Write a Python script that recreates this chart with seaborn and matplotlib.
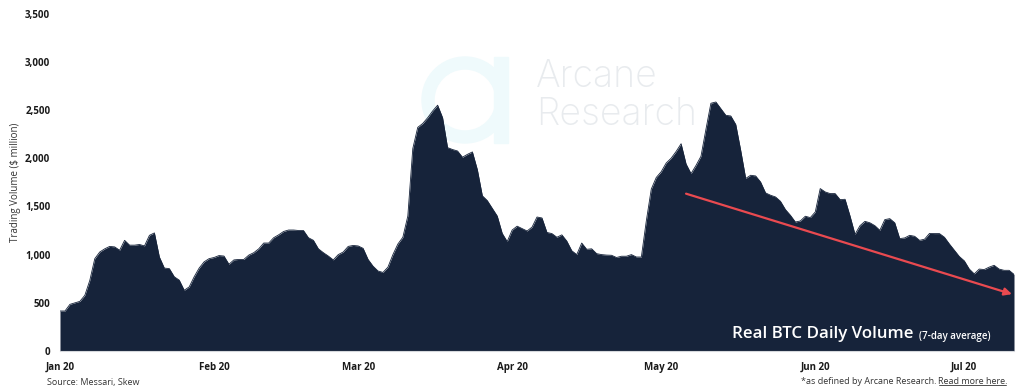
import pandas as pd
import seaborn as sns
import matplotlib.pyplot as plt
import matplotlib.dates as mdates
from matplotlib.patches import Annulus, Rectangle
from matplotlib.lines import Line2D
from matplotlib.transforms import IdentityTransform

# Real BTC daily volume, 7-day average ($ million), one value per day from 1 Jan 2020
volume = [
    415, 415, 484, 500, 515, 578, 733, 958, 1027, 1060,
    1085, 1080, 1045, 1148, 1098, 1098, 1105, 1090, 1200, 1225,
    975, 860, 855, 770, 735, 630, 665, 770, 860, 925,
    958, 970, 990, 985, 900, 945, 950, 950, 995, 1020,
    1060, 1120, 1120, 1175, 1205, 1240, 1255, 1255, 1250, 1250,
    1175, 1148, 1060, 1020, 985, 945, 1000, 1027, 1085, 1095,
    1090, 1065, 950, 880, 830, 815, 870, 1000, 1110, 1180,
    1400, 2100, 2320, 2360, 2420, 2490, 2550, 2420, 2110, 2090,
    2075, 2010, 2040, 2065, 1880, 1610, 1560, 1480, 1400, 1220,
    1135, 1255, 1295, 1270, 1245, 1285, 1390, 1380, 1230, 1218,
    1180, 1205, 1140, 1040, 1000, 1120, 1055, 1060, 1010, 1000,
    995, 993, 970, 983, 983, 1000, 975, 975, 1350, 1680,
    1800, 1860, 1950, 2000, 2070, 2150, 1940, 1840, 1925, 2020,
    2300, 2570, 2583, 2514, 2445, 2438, 2350, 2080, 1790, 1823,
    1816, 1753, 1640, 1616, 1598, 1553, 1467, 1408, 1338, 1349,
    1398, 1384, 1442, 1685, 1650, 1633, 1633, 1570, 1574, 1400,
    1210, 1300, 1345, 1330, 1300, 1252, 1363, 1373, 1330, 1166,
    1173, 1200, 1190, 1148, 1160, 1220, 1218, 1218, 1180, 1110,
    1045, 980, 935, 850, 800, 850, 845, 870, 889, 850,
    837, 837, 795,
]
start_date = '2020-01-01'
yticks = [0, 500, 1000, 1500, 2000, 2500, 3000, 3500]

# trend arrow (date, volume)
trend_start = ('2020-05-06', 1632)
trend_end = ('2020-07-10 14:00', 590)

dates = pd.date_range(start_date, periods=len(volume), freq='D')
df = pd.DataFrame({'date': dates, 'volume': volume})

sns.set_theme(style="white")
plt.rcParams['font.family'] = ['Open Sans', 'DejaVu Sans']

navy = '#16233a'
text_col = '#333333'
fig = plt.figure(figsize=(10.24, 3.88), dpi=100)
ax = fig.add_axes([60 / 1024, 1 - 351 / 388, 954 / 1024, 337.4 / 388])

# watermark, behind the area
ax.add_patch(Annulus((465, 288), 43, 12, transform=IdentityTransform(),
                     color='#effafc', zorder=0))
ax.add_patch(Rectangle((494, 245), 14, 86, transform=IdentityTransform(),
                       color='#effafc', zorder=0))
ax.text(536, 388 - 96, 'Arcane\nResearch', fontsize=27, fontweight='light',
        color='#e8ebee', family=['Inter', 'DejaVu Sans'], va='center',
        linespacing=1.05, transform=IdentityTransform(), zorder=0)

sns.lineplot(data=df, x='date', y='volume', color=navy, lw=0.6, ax=ax, zorder=2)
ax.fill_between(df['date'], df['volume'], color=navy, lw=0, zorder=2)

ax.annotate('', xy=(pd.Timestamp(trend_end[0]), trend_end[1]),
            xytext=(pd.Timestamp(trend_start[0]), trend_start[1]),
            arrowprops=dict(arrowstyle='-|>', color='#ea4a50', lw=1.6,
                            mutation_scale=11, shrinkA=0, shrinkB=0),
            zorder=4)

ax.set_xlim(dates[0], dates[-1])
ax.set_ylim(0, 3500)
ax.set_yticks(yticks)
ax.set_yticklabels([f'{v:,}' for v in yticks], fontsize=7, fontweight='bold', color='#1a1a1a')
ax.xaxis.set_major_locator(mdates.MonthLocator())
ax.xaxis.set_major_formatter(mdates.DateFormatter('%b %y'))
plt.xticks(fontsize=7, fontweight='bold', color='#1a1a1a')
ax.tick_params(axis='x', length=3, width=0.8, color='#d5d8dc', pad=5)
ax.tick_params(axis='y', length=0, pad=7)
ax.set_xlabel('')
ax.set_ylabel('Trading Volume ($ million)', fontsize=7, color=text_col, labelpad=3)
for side in ['left', 'right', 'top']:
    ax.spines[side].set_visible(False)
ax.spines['bottom'].set_color('#d5d8dc')
ax.spines['bottom'].set_linewidth(0.8)
ax.spines['bottom'].set_zorder(3)
ax.grid(False)

t1 = ax.text((732 - 60) / 954, (351 - 338) / 337.4, 'Real BTC Daily Volume',
             transform=ax.transAxes, fontsize=12.2, fontweight='semibold',
             color='white', va='baseline', zorder=5)
ax.annotate('(7-day average)', xy=(1, 0), xycoords=t1, xytext=(4, 0),
            textcoords='offset points', fontsize=7, fontweight='semibold',
            color='white', va='bottom', zorder=5)

# footer
fig.text(47 / 1024, 1 - 382 / 388, 'Source: Messari, Skew', fontsize=6.5,
         color=text_col, va='center')
foot_y = 388 - 382
link = fig.text(1008, foot_y, 'Read more here.', fontsize=6.5, color=text_col,
                va='center', ha='right', transform=IdentityTransform())
fig.canvas.draw()
bb = link.get_window_extent()
fig.text(bb.x0, foot_y, '*as defined by Arcane Research. ', fontsize=6.5,
         color=text_col, va='center', ha='right', transform=IdentityTransform())
fig.add_artist(Line2D([bb.x0, bb.x1 - 2], [bb.y0 + 1.5, bb.y0 + 1.5],
                      transform=IdentityTransform(), color=text_col, lw=0.6))

fig.savefig('out.png', dpi=100)
